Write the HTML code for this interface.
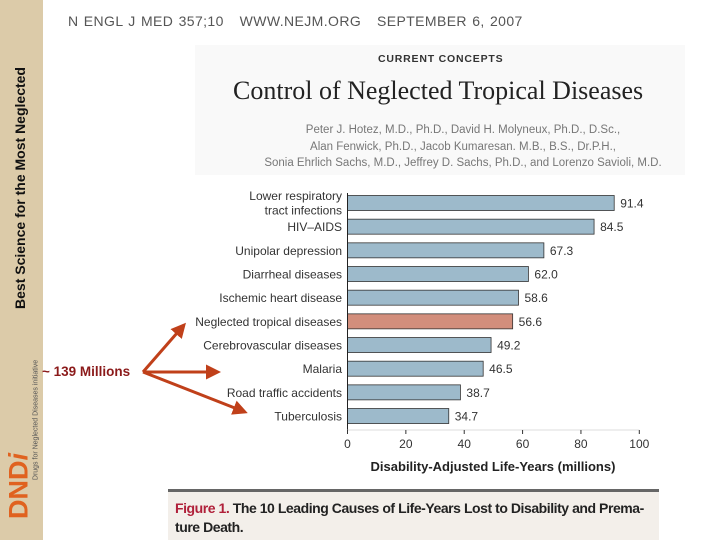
<!DOCTYPE html>
<html><head><meta charset="utf-8"><style>
body{margin:0;width:720px;height:540px;overflow:hidden;background:#fff;position:relative;font-family:"Liberation Sans",sans-serif}
.abs{position:absolute}
</style></head><body>
<div class="abs" style="left:0;top:0;width:43px;height:540px;background:#dccba9"></div>
<div class="abs" style="left:20px;top:188px;transform:translate(-50%,-50%) rotate(-90deg);white-space:nowrap;font-weight:bold;font-size:14px;color:#111">Best Science for the Most Neglected</div>
<div class="abs" style="left:36px;top:420px;transform:translate(-50%,-50%) rotate(-90deg);white-space:nowrap;font-size:7px;color:#555">Drugs for Neglected Diseases initiative</div>
<div class="abs" style="left:19px;top:486px;transform:translate(-50%,-50%) rotate(-90deg);white-space:nowrap;font-weight:bold;font-size:27px;color:#e0621f">DND<i>i</i></div>
<div class="abs" style="left:195px;top:45px;width:490px;height:130px;background:#f9f9f9"></div>
<div class="abs" style="left:68px;top:13px;font-size:14px;letter-spacing:0.4px;color:#555;white-space:nowrap;word-spacing:1px">N ENGL J MED 357;10 &nbsp; WWW.NEJM.ORG &nbsp; SEPTEMBER 6, 2007</div>
<div class="abs" style="left:378px;top:53px;font-weight:bold;font-size:10.5px;letter-spacing:0.8px;color:#333">CURRENT CONCEPTS</div>
<div class="abs" style="left:233px;top:76px;font-family:'Liberation Serif',serif;font-size:26px;color:#222;white-space:nowrap">Control of Neglected Tropical Diseases</div>
<div class="abs" style="left:213px;top:122px;width:500px;text-align:center;font-size:11.5px;line-height:16.5px;color:#777">Peter J. Hotez, M.D., Ph.D., David H. Molyneux, Ph.D., D.Sc.,<br>Alan Fenwick, Ph.D., Jacob Kumaresan. M.B., B.S., Dr.P.H.,<br>Sonia Ehrlich Sachs, M.D., Jeffrey D. Sachs, Ph.D., and Lorenzo Savioli, M.D.</div>
<div class="abs" style="left:42px;top:364px;font-weight:bold;font-size:13.5px;color:#8b1a1a;white-space:nowrap">~ 139 Millions</div>
<svg class="abs" style="left:0;top:0" width="720" height="540">
<defs><marker id="ah" markerWidth="5" markerHeight="5" refX="4" refY="2.5" orient="auto" markerUnits="strokeWidth"><path d="M0,0L5,2.5L0,5Z" fill="#c0401a"/></marker></defs>
<g stroke="#c0401a" stroke-width="3" fill="none">
<line x1="143" y1="372" x2="184" y2="325" marker-end="url(#ah)"/>
<line x1="143" y1="372" x2="218" y2="372" marker-end="url(#ah)"/>
<line x1="143" y1="372" x2="245" y2="412" marker-end="url(#ah)"/>
</g>
<g id="bars"></g>
</svg>
<div class="abs" style="left:168px;top:489px;width:491px;height:3px;background:#666"></div>
<div class="abs" style="left:168px;top:492px;width:491px;height:48px;background:#f3efea"></div>
<div class="abs" style="left:175px;top:499px;width:484px;font-size:14px;line-height:19px;color:#222;font-weight:bold;letter-spacing:-0.45px;white-space:nowrap"><span style="color:#b0203a">Figure 1.</span> The 10 Leading Causes of Life-Years Lost to Disability and Prema-<br>ture Death.</div>
<script>
const categories=[["Lower respiratory","tract infections"],["HIV–AIDS"],["Unipolar depression"],["Diarrheal diseases"],["Ischemic heart disease"],["Neglected tropical diseases"],["Cerebrovascular diseases"],["Malaria"],["Road traffic accidents"],["Tuberculosis"]];
const values=[91.4,84.5,67.3,62.0,58.6,56.6,49.2,46.5,38.7,34.7];
const valueLabels=["91.4","84.5","67.3","62.0","58.6","56.6","49.2","46.5","38.7","34.7"];
const highlight=[false,false,false,false,false,true,false,false,false,false];
const ticks=[0,20,40,60,80,100];
const NS="http://www.w3.org/2000/svg";
const g=document.getElementById('bars');
const x=v=>347.5+v*2.918;
const y=i=>203+i*23.67;
function mk(t,a,txt){const e=document.createElementNS(NS,t);for(const k in a)e.setAttribute(k,a[k]);if(txt!=null)e.textContent=txt;g.appendChild(e);return e;}
const F="Liberation Sans, sans-serif";
values.forEach((v,i)=>{
 const r=mk('rect',{x:x(0),y:y(i)-7.5,width:x(v)-x(0),height:15,fill:highlight[i]?'#d28e7c':'#9dbacb',stroke:'#333','stroke-width':0.8});
 
 
 const t=mk('text',{x:x(v)+6,y:y(i)+4.5,'font-size':12,'font-family':F,fill:'#333'},valueLabels[i]);
 
 
 const lines=categories[i];
 lines.forEach((s,j)=>{
  const yy=lines.length>1?y(i)-3+j*14.5:y(i)+4.5;
  const c=mk('text',{x:342,y:yy,'font-size':12,'font-family':F,fill:'#333','text-anchor':'end'},s);
  
  
 });
});
const ax=mk('line',{x1:x(0),y1:193,x2:x(0),y2:430,stroke:'#222','stroke-width':1});


const xl=mk('line',{x1:x(0),y1:430,x2:x(100),y2:430,stroke:'#ddd','stroke-width':1});


ticks.forEach(t=>{
 const l=mk('line',{x1:x(t),y1:430,x2:x(t),y2:434,stroke:'#333'});
 
 
 const tx=mk('text',{x:x(t),y:448,'font-size':12,'font-family':F,fill:'#333','text-anchor':'middle'},String(t));
 
 
});
const xt=mk('text',{x:493,y:471,'font-size':13,'font-weight':'bold','font-family':F,fill:'#222','text-anchor':'middle'},'Disability-Adjusted Life-Years (millions)');


</script>
</body></html>
